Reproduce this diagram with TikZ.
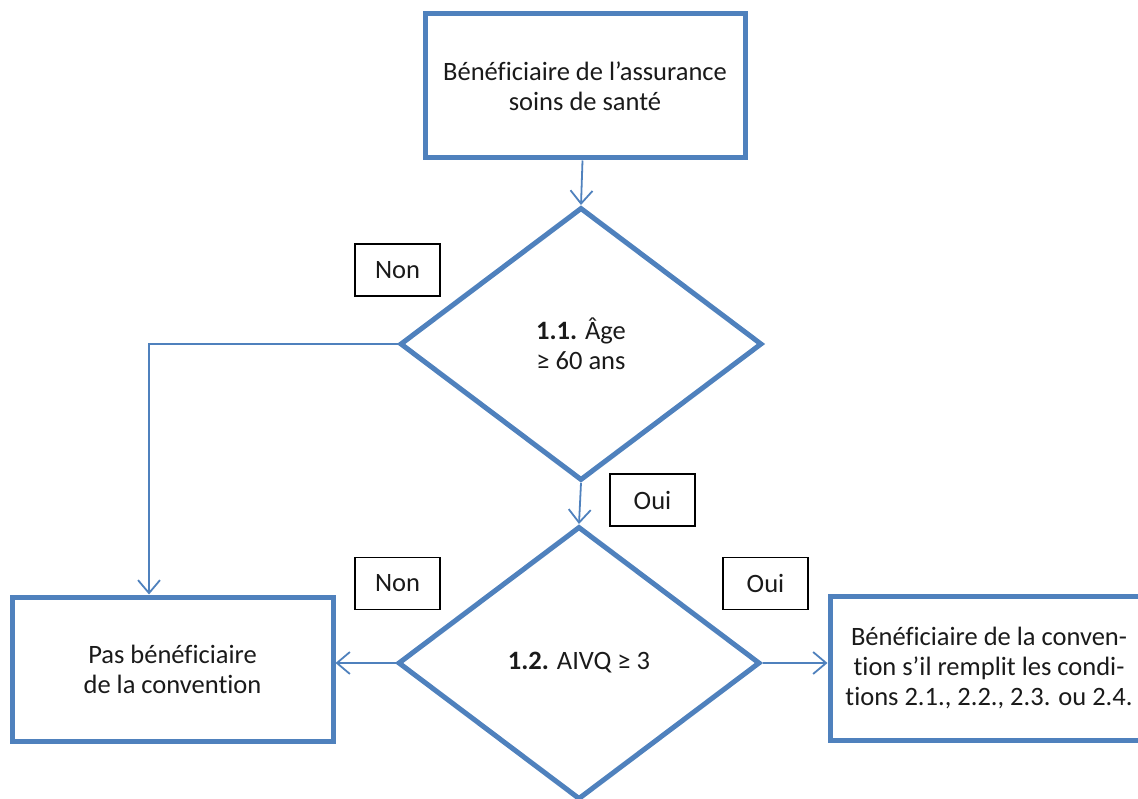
\documentclass[tikz,border=0pt]{standalone}
\usepackage{fontspec}
\setmainfont{Carlito}[Ligatures={NoCommon}]
\usetikzlibrary{arrows.meta,shapes.geometric,positioning}
\definecolor{officeblue}{RGB}{79,129,189}
\definecolor{inktext}{RGB}{26,26,26}

\begin{document}
\begin{tikzpicture} [x=1pt,y=-1pt,>={Straight Barb[length=13pt,width=22pt]},font=\fontsize{26.5}{30}\selectfont,text=inktext]
    \tikzset {
      block/.style={rectangle,draw=officeblue,line width=5pt,minimum width=320pt,minimum height=144pt,align=center,inner sep=0pt},
      decision/.style={diamond,draw=officeblue,line width=5pt,minimum width=362pt,minimum height=273pt,align=center,inner sep=0pt},
      answer/.style={rectangle,draw=black,line width=1.5pt,minimum width=85pt,minimum height=52pt,inner sep=0pt},
      flow/.style={->,draw=officeblue,line width=1.8pt}
    }
    \useasboundingbox (0,0) rectangle (1138,799);
    \clip (0,0) rectangle (1138,799);
    \node [block] (assur) at (585,86) {Bénéficiaire de l’assurance\\soins de santé};
    \node [decision] (age) at (581,344) {\textbf{1.1.} Âge\\≥ 60 ans};
    \node [decision] (aivq) at (579,663) {\textbf{1.2.} AIVQ ≥ 3};
    \node [block, minimum width=321pt] (pas) at (172.5,669) {Pas bénéficiaire\\de la convention};
    \node [block, minimum width=318pt] (conv) at (989,668) {Bénéficiaire de la conven-\\tion s’il remplit les condi-\\tions 2.1., 2.2., 2.3. ou 2.4.};
    \node [answer] (non1) at (397.5,270) {Non};
    \node [answer] (oui1) at (652.5,500) {Oui};
    \node [answer] (non2) at (397.5,583.5) {Non};
    \node [answer] (oui2) at (765.5,583.5) {Oui};
    \draw [flow] (assur) to (age.north);
    \draw [flow] (age.south) to (aivq.north);
    \draw [flow] (age.west) -| ([xshift=-23.5pt]pas.north);
    \draw [flow] (aivq.west) to (aivq.west -| pas.east);
    \draw [flow] (aivq.east) to (aivq.east -| conv.west);
  \end{tikzpicture}
\end{document}
